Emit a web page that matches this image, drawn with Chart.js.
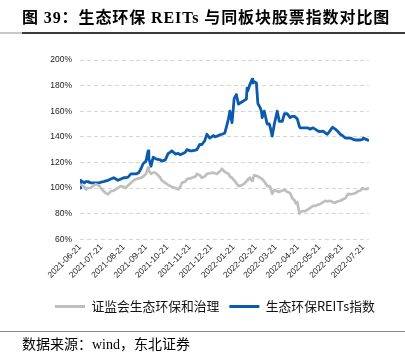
<!DOCTYPE html>
<html><head><meta charset="utf-8">
<script src="https://cdn.jsdelivr.net/npm/chart.js@4.4.0/dist/chart.umd.min.js"></script>
<style>
html,body{margin:0;padding:0;background:#fff;}
#wrap{position:relative;width:405px;height:362px;overflow:hidden;background:#fff;}
#title{position:absolute;left:22px;top:4px;font:bold 16px "Liberation Serif","Noto Sans CJK SC";letter-spacing:0.9px;color:#000;white-space:nowrap;}
#rule0{position:absolute;left:0;top:32px;width:22px;height:2px;background:#c8c8c8;}
#rule1{position:absolute;left:22px;top:32px;width:383px;height:2px;background:#3a3a3a;}
#rule2{position:absolute;left:0;top:331px;width:405px;height:1px;background:#8a8a8a;}
#src{position:absolute;left:22px;top:333px;font:14px "Liberation Serif","Noto Sans CJK SC";color:#000;white-space:nowrap;}
canvas{position:absolute;left:0;top:0;}
</style></head>
<body>
<div id="wrap">
<canvas id="c" width="405" height="362"></canvas>
<div id="title">图 39：生态环保 REITs 与同板块股票指数对比图</div>
<div id="rule0"></div><div id="rule1"></div>
<div id="rule2"></div>
<div id="src">数据来源：wind，东北证券</div>
</div>
<script>
const seriesNames = ['证监会生态环保和治理', '生态环保REITs指数'];
const tickLabels = ['2021-06-21','2021-07-21','2021-08-21','2021-09-21','2021-10-21','2021-11-21','2021-12-21',
 '2022-01-21','2022-02-21','2022-03-21','2022-04-21','2022-05-21','2022-06-21','2022-07-21'];
const dates = [
'2021-06-21','2021-06-22','2021-06-27','2021-06-29','2021-07-02','2021-07-06','2021-07-09','2021-07-13','2021-07-18','2021-07-20',
'2021-07-24','2021-07-27','2021-07-30','2021-08-03','2021-08-07','2021-08-10','2021-08-13','2021-08-17','2021-08-21','2021-08-24',
'2021-08-27','2021-08-31','2021-09-04','2021-09-07','2021-09-11','2021-09-14','2021-09-17','2021-09-21','2021-09-24','2021-09-25',
'2021-09-28','2021-10-01','2021-10-04','2021-10-06','2021-10-11','2021-10-13','2021-10-18','2021-10-22','2021-10-25','2021-10-27',
'2021-11-01','2021-11-05','2021-11-08','2021-11-10','2021-11-15','2021-11-17','2021-11-22','2021-11-24','2021-11-29','2021-12-01',
'2021-12-05','2021-12-08','2021-12-12','2021-12-15','2021-12-19','2021-12-24','2021-12-26','2021-12-29','2022-01-02','2022-01-05',
'2022-01-09','2022-01-14','2022-01-16','2022-01-19','2022-01-22','2022-01-25','2022-01-28','2022-02-01','2022-02-04','2022-02-08',
'2022-02-09','2022-02-10','2022-02-13','2022-02-16','2022-02-17','2022-02-19','2022-02-22','2022-02-24','2022-02-27','2022-03-01',
'2022-03-02','2022-03-05','2022-03-09','2022-03-12','2022-03-13','2022-03-16','2022-03-19','2022-03-23','2022-03-26','2022-03-30',
'2022-04-02','2022-04-06','2022-04-10','2022-04-13','2022-04-16','2022-04-18','2022-04-20','2022-04-23','2022-04-24','2022-04-27',
'2022-05-01','2022-05-04','2022-05-08','2022-05-12','2022-05-15','2022-05-19','2022-05-22','2022-05-26','2022-05-29','2022-06-01',
'2022-06-05','2022-06-08','2022-06-12','2022-06-15','2022-06-19','2022-06-22','2022-06-26','2022-06-30','2022-07-03','2022-07-07',
'2022-07-10','2022-07-14','2022-07-17','2022-07-20','2022-07-21','2022-07-25','2022-07-29'];
const reitsIndex = [
100,106,104,105,105,104,104,104,104,104.5,
105,105.5,106,107,108,107,106,107,108,108,
108.5,111,111,111,112,115,119,121,129,123,
117,124,123,122.5,122,121,122,127,128,129,
126.5,127,126,126.5,128,130,129,129,129.5,130,
134,134,137,142,139,141,140,140.5,141.5,142,
143,154,160,151,170,173,165.5,167,168,169.5,
178,176,181,185,182,183,182,166,163,160,
155,160,150,150,148,140.5,150,160,152,152,
158,158,155,156,156,155,154,148,147,147,
147,147,146,147,146,144.5,144,144.5,143,142,
145,147.5,146,144.5,142,141,139,139,139,138,
137.5,137.5,137.5,138,139,138,137];
const csrcIndex = [
103,103,101,99,100,100,101.5,103,101.5,100,
97.5,96,95,97.5,98,99,100,101.5,101,100,
102,104,106,107,107.5,108,109,111,116,114,
111,112,112,111,108,106,104,102.5,101.5,101,
100,99,101,104,105,107,107.5,108,109,111,
110,108,109,111,111.5,112,111.5,111,113,115,
112.5,111,109,108,106,104,101.5,102,103,105,
106,107,108,105.5,107,110,109.5,109,108,107.5,
107,105,101.5,101.5,101,95.5,98.5,97.5,97,98,
98.5,97,96,92,90.5,88,89,80,81,82,
82,83,84.5,86,86,87,87.5,89,90,89.5,
90,89,88.5,89.5,90,91,92,95.5,95,95.5,
96,97.5,98,100,99.5,99,100];

const BASE = Date.UTC(2021, 5, 21);
function dayOf(s){const p=s.split('-').map(Number);return (Date.UTC(p[0],p[1]-1,p[2])-BASE)/864e5;}
function pts(arr){return dates.map((d,i)=>({x:dayOf(d),y:arr[i]}));}

const legendShift = {
  id:'legendShift',
  afterLayout(chart){
    const lg = chart.legend; if(!lg || !lg.lineWidths) return;
    const pad = lg.options.labels.padding;
    const start = (lg.left + pad + lg.right - lg.lineWidths[0]) / 2;
    const dx = 55 - start;
    lg.left += dx; lg.right += dx;
  }
};

new Chart(document.getElementById('c'), {
  type:'line',
  data:{datasets:[
    {label:seriesNames[0], data:pts(csrcIndex), borderColor:'#BFBFBF', backgroundColor:'#BFBFBF', borderWidth:2.7, pointRadius:0, tension:0, borderJoinStyle:'round'},
    {label:seriesNames[1], data:pts(reitsIndex), borderColor:'#0A5AAF', backgroundColor:'#0A5AAF', borderWidth:2.8, pointRadius:0, tension:0, borderJoinStyle:'round'}
  ]},
  options:{
    responsive:false, animation:false, events:[],
    layout:{padding:{top:60,right:36,bottom:39,left:0}},
    plugins:{
      tooltip:{enabled:false},
      legend:{position:'bottom', align:'center',
        labels:{boxWidth:30, boxHeight:3, padding:10, color:'#111',
          font:{family:'"Noto Sans CJK SC"', size:12.8},
          generateLabels(chart){
            return Chart.defaults.plugins.legend.labels.generateLabels(chart).map(l=>Object.assign(l,{lineWidth:0, fillStyle:l.strokeStyle}));
          }}}
    },
    scales:{
      x:{type:'linear', min:0, max:dayOf(dates[dates.length-1]),
        afterBuildTicks(s){s.ticks = tickLabels.map(t=>({value:dayOf(t)}));},
        afterFit(s){s.height = 51;},
        grid:{display:false, drawTicks:false}, border:{display:false},
        ticks:{autoSkip:false, minRotation:45, maxRotation:45, padding:3, color:'#222',
          font:{family:'"Liberation Sans"', size:8.5},
          callback(v,i){return tickLabels[i];}}},
      y:{min:60, max:200,
        afterFit(s){s.width = 80;},
        grid:{color:'#d6d6d6', lineWidth:1, drawTicks:false, borderDash:[4,3]},
        border:{display:true, color:'rgba(0,0,0,0)', width:0, dash:[4,3]},
        ticks:{stepSize:20, padding:8, color:'#222', font:{family:'"Liberation Sans"', size:8.5},
          callback(v){return v+'%';}}}
    }
  },
  plugins:[legendShift]
});
</script>
</body></html>
